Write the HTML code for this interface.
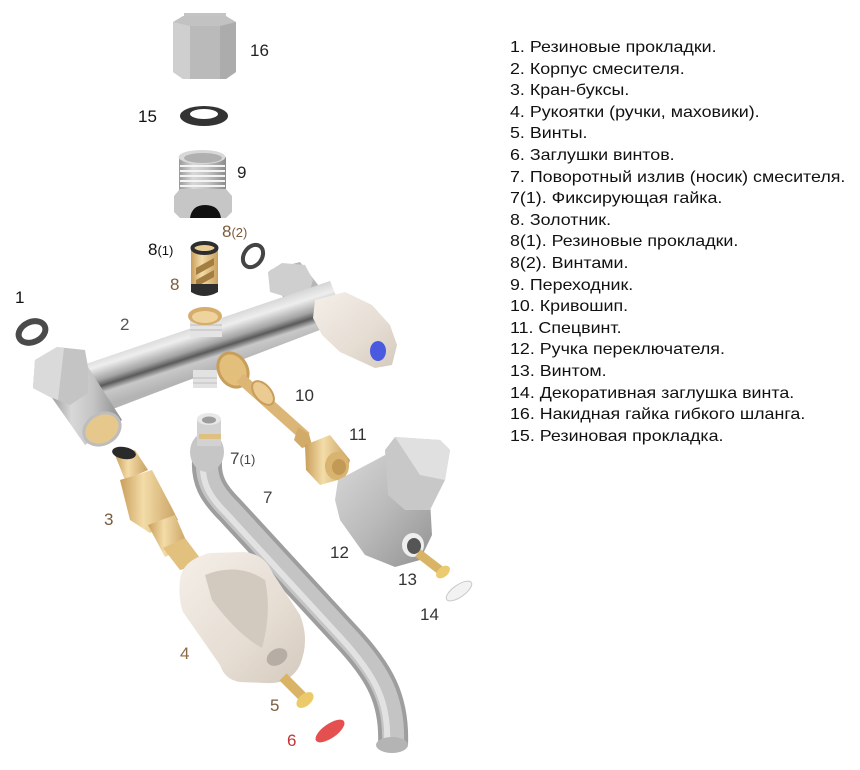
<!DOCTYPE html>
<html><head><meta charset="utf-8">
<style>
html,body{margin:0;padding:0;background:#fff;}
body{width:860px;height:770px;position:relative;overflow:hidden;font-family:"Liberation Sans",Arial,sans-serif;}
#list{position:absolute;left:510px;top:37px;font-size:16px;line-height:21.6px;color:#111;white-space:nowrap;transform:scaleX(1.115);transform-origin:0 0;}
svg{position:absolute;left:0;top:0;}
</style></head><body>
<svg width="860" height="770" viewBox="0 0 860 770" xmlns="http://www.w3.org/2000/svg">
<defs>
<linearGradient id="chromeV" x1="0" y1="0" x2="1" y2="0">
<stop offset="0" stop-color="#9a9a9a"/><stop offset="0.3" stop-color="#d8d8d8"/><stop offset="0.6" stop-color="#c4c4c4"/><stop offset="1" stop-color="#8c8c8c"/></linearGradient>
<linearGradient id="bar" gradientUnits="userSpaceOnUse" x1="200" y1="320" x2="216" y2="370">
<stop offset="0" stop-color="#cfcfcf"/><stop offset="0.25" stop-color="#eeeeee"/><stop offset="0.5" stop-color="#a4a4a4"/><stop offset="0.62" stop-color="#5a5a5a"/><stop offset="0.75" stop-color="#c8c8c8"/><stop offset="1" stop-color="#b4b4b4"/></linearGradient>
<linearGradient id="brass" x1="0" y1="0" x2="1" y2="0">
<stop offset="0" stop-color="#c99e5a"/><stop offset="0.4" stop-color="#f3dca8"/><stop offset="1" stop-color="#c9a060"/></linearGradient>
<linearGradient id="ivory" x1="0" y1="0" x2="1" y2="1">
<stop offset="0" stop-color="#f4efe9"/><stop offset="0.6" stop-color="#e6ddd3"/><stop offset="1" stop-color="#d4cabe"/></linearGradient>
<linearGradient id="knob12" x1="0" y1="0" x2="1" y2="1">
<stop offset="0" stop-color="#d8d8d8"/><stop offset="0.5" stop-color="#bababa"/><stop offset="1" stop-color="#929292"/></linearGradient>
</defs>

<!-- 16 nut -->
<rect x="184" y="13" width="42" height="12" fill="#c4c4c4"/>
<polygon points="173,22 183,16 226,16 236,22 236,72 226,79 183,79 173,72" fill="#c2c2c2"/>
<polygon points="173,22 190,26 190,79 183,79 173,72" fill="#cfcfcf"/>
<polygon points="190,26 220,26 220,79 190,79" fill="#bababa"/>
<polygon points="220,26 236,22 236,72 226,79 220,79" fill="#acacac"/>

<!-- 15 washer -->
<ellipse cx="204" cy="116" rx="24" ry="10" fill="#333"/>
<ellipse cx="204" cy="114" rx="14" ry="5" fill="#fff"/>

<!-- 9 adapter -->
<rect x="179" y="157" width="47" height="36" fill="url(#chromeV)"/>
<g stroke="#f4f4f4" stroke-width="2">
<line x1="180" y1="166" x2="225" y2="166"/><line x1="180" y1="171" x2="225" y2="171"/><line x1="180" y1="176" x2="225" y2="176"/><line x1="180" y1="181" x2="225" y2="181"/><line x1="180" y1="186" x2="225" y2="186"/></g>
<ellipse cx="202" cy="157" rx="23.5" ry="7" fill="#d8d8d8"/>
<ellipse cx="203" cy="158" rx="19" ry="5" fill="#b0b0b0"/>
<polygon points="174,196 180,189 226,189 232,196 232,212 226,218 180,218 174,212" fill="#c6c6c6"/>
<path d="M190 218 Q192 205 205 205 Q219 205 221 218 Z" fill="#111"/>

<!-- 8 and washers -->
<rect x="191" y="248" width="27" height="44" fill="url(#brass)"/>
<polygon points="196,268 214,258 214,265 196,275" fill="#a47e40"/>
<polygon points="196,280 214,270 214,277 196,287" fill="#a47e40"/>
<path d="M191 284 L218 284 L218 292 Q204 300 191 292 Z" fill="#2e2e2e"/>
<ellipse cx="204.5" cy="248" rx="12" ry="5" fill="#e8cc94" stroke="#2e2e2e" stroke-width="4"/>
<ellipse cx="253" cy="256" rx="9" ry="12" transform="rotate(35 253 256)" fill="none" stroke="#444" stroke-width="4"/>
<ellipse cx="32" cy="332" rx="14" ry="10" transform="rotate(-25 32 332)" fill="none" stroke="#4a4a4a" stroke-width="6"/>

<!-- body 2 -->
<polygon points="270,270 300,262 330,300 315,320 290,312" fill="#b6b6b6"/>
<polygon points="268,272 282,263 305,265 313,280 308,297 290,298 270,292" fill="#cfcfcf"/>
<polygon points="80,366 330,281 346,320 100,414" fill="url(#bar)"/>
<polygon points="135,348 225,318 239,362 150,394" fill="url(#bar)" opacity="0.85"/>
<polygon points="50,395 88,367 122,420 85,445" fill="url(#chromeV)"/>
<ellipse cx="102" cy="429" rx="19" ry="15" transform="rotate(-30 102 429)" fill="#e6c78c" stroke="#bdbdbd" stroke-width="3"/>
<polygon points="35,360 57,347 85,350 88,367 88,393 70,405 50,397 33,388" fill="#c4c4c4"/>
<polygon points="35,360 57,347 64,348 58,400 50,397 33,388" fill="#dadada"/>
<rect x="193" y="370" width="24" height="18" fill="#e2e2e2"/>
<rect x="190" y="315" width="32" height="22" fill="#e4e4e4"/>
<g stroke="#bdbdbd" stroke-width="1"><line x1="190" y1="325" x2="222" y2="325"/><line x1="190" y1="330" x2="222" y2="330"/><line x1="193" y1="378" x2="217" y2="378"/><line x1="193" y1="383" x2="217" y2="383"/></g>
<ellipse cx="205" cy="316" rx="17" ry="9" fill="#d6ad6c"/>
<ellipse cx="205" cy="317" rx="13" ry="6" fill="#efd39c"/>
<ellipse cx="233" cy="370" rx="14" ry="18" transform="rotate(-30 233 370)" fill="#e3bf7c" stroke="#c99e5a" stroke-width="3"/>
<!-- right knob -->
<polygon points="315,300 345,292 372,305 390,325 397,345 392,365 375,368 340,352 322,335 313,318" fill="url(#ivory)"/>
<ellipse cx="378" cy="351" rx="8" ry="10" fill="#4a5ae0"/>

<!-- 10 -->
<line x1="240" y1="378" x2="306" y2="437" stroke="#dcb676" stroke-width="11"/>
<polygon points="298,427 309,434 312,445 302,448 294,440" fill="#d2ab68"/>
<ellipse cx="263" cy="393" rx="8" ry="14" transform="rotate(-40 263 393)" fill="#ebcb92" stroke="#c99e5a" stroke-width="2"/>

<!-- 11 -->
<polygon points="305,445 330,435 350,460 345,478 320,485 306,470" fill="url(#brass)"/>
<ellipse cx="337" cy="466" rx="12" ry="14" fill="#d8b470"/>
<ellipse cx="339" cy="467" rx="7" ry="8" fill="#c39a55"/>

<!-- 12 -->
<polygon points="338,480 385,455 415,470 430,500 432,535 420,560 395,567 365,555 340,520 335,500" fill="url(#knob12)"/>
<ellipse cx="413" cy="545" rx="11" ry="12" fill="#eee"/>
<ellipse cx="414" cy="546" rx="7" ry="8" fill="#555"/>
<polygon points="385,450 395,437 440,440 450,450 445,480 430,510 405,510 388,495" fill="#c8c8c8"/>
<polygon points="395,437 440,440 450,450 445,480 420,475" fill="#e0e0e0"/>
<!-- 13 -->
<line x1="418" y1="553" x2="440" y2="570" stroke="#d9b466" stroke-width="9"/>
<ellipse cx="443" cy="572" rx="8" ry="5" transform="rotate(-40 443 572)" fill="#ecca70"/>
<!-- 14 -->
<ellipse cx="459" cy="591" rx="15" ry="6" transform="rotate(-35 459 591)" fill="#f2f2f2" stroke="#c8c8c8" stroke-width="1"/>

<!-- spout 7 -->
<path d="M208 452 C203 480 215 495 230 510 L345 635 C380 672 395 700 393 745" fill="none" stroke="#9e9e9e" stroke-width="30"/>
<path d="M208 452 C203 480 215 495 230 510 L345 635 C380 672 395 700 393 745" fill="none" stroke="#c4c4c4" stroke-width="22"/>
<path d="M204 455 C199 482 211 498 226 513 L341 638 C375 675 389 702 387 743" fill="none" stroke="#e2e2e2" stroke-width="6"/>
<ellipse cx="392" cy="745" rx="16" ry="8" fill="#b4b4b4"/>
<ellipse cx="207" cy="452" rx="17" ry="20" fill="#c6c6c6"/>
<rect x="197" y="418" width="24" height="28" fill="#d2d2d2"/>
<rect x="199" y="434" width="22" height="5" fill="#dfc080"/>
<ellipse cx="209" cy="419" rx="12" ry="6" fill="#e8e8e8"/>
<ellipse cx="209" cy="420" rx="7" ry="3.5" fill="#9c9c9c"/>

<!-- 3 cartridge -->
<polygon points="115,455 135,450 148,470 125,480" fill="url(#brass)"/>
<ellipse cx="124" cy="453" rx="12" ry="6" transform="rotate(10 124 453)" fill="#2a2a2a"/>
<polygon points="120,480 152,470 172,508 178,520 150,533 130,520" fill="url(#brass)"/>
<polygon points="148,525 175,515 188,545 165,557" fill="url(#brass)"/>
<polygon points="163,548 185,538 200,558 196,566 180,570" fill="#e2c07e"/>

<!-- 4 handle -->
<path d="M180 580 Q182 560 210 553 L245 552 Q265 555 272 572 L300 615 Q310 640 300 665 Q290 685 265 683 L240 682 Q225 680 220 665 L183 612 Q178 598 180 580 Z" fill="url(#ivory)"/>
<path d="M205 575 Q238 562 265 580 Q272 612 262 648 Q238 635 212 600 Z" fill="#d2c9bf"/>
<ellipse cx="277" cy="657" rx="11" ry="8" transform="rotate(-30 277 657)" fill="#b6aea5"/>
<!-- 5 screw -->
<line x1="283" y1="677" x2="302" y2="696" stroke="#d9b466" stroke-width="10"/>
<ellipse cx="305" cy="700" rx="10" ry="6" transform="rotate(-40 305 700)" fill="#ecca6a"/>
<!-- 6 -->
<ellipse cx="330" cy="731" rx="17" ry="7" transform="rotate(-35 330 731)" fill="#e45050"/>

<!-- labels -->
<g font-family="Liberation Sans, Arial, sans-serif" font-size="17">
<text x="250" y="56" fill="#222">16</text>
<text x="138" y="122" fill="#111">15</text>
<text x="237" y="178" fill="#222">9</text>
<text x="148" y="255" fill="#111">8<tspan font-size="13">(1)</tspan></text>
<text x="222" y="237" fill="#7a5c3c">8<tspan font-size="13">(2)</tspan></text>
<text x="170" y="290" fill="#7a5c3c">8</text>
<text x="15" y="303" fill="#111">1</text>
<text x="120" y="330" fill="#555">2</text>
<text x="295" y="401" fill="#333">10</text>
<text x="349" y="440" fill="#333">11</text>
<text x="230" y="464" fill="#444">7<tspan font-size="13">(1)</tspan></text>
<text x="263" y="503" fill="#444">7</text>
<text x="104" y="525" fill="#7a5c3c">3</text>
<text x="330" y="558" fill="#333">12</text>
<text x="398" y="585" fill="#333">13</text>
<text x="420" y="620" fill="#333">14</text>
<text x="180" y="659" fill="#8a6a44">4</text>
<text x="270" y="711" fill="#7a5c3c">5</text>
<text x="287" y="746" fill="#c83232">6</text>
</g>
</svg>
<div id="list">
1. Резиновые прокладки.<br>
2. Корпус смесителя.<br>
3. Кран-буксы.<br>
4. Рукоятки (ручки, маховики).<br>
5. Винты.<br>
6. Заглушки винтов.<br>
7. Поворотный излив (носик) смесителя.<br>
7(1). Фиксирующая гайка.<br>
8. Золотник.<br>
8(1). Резиновые прокладки.<br>
8(2). Винтами.<br>
9. Переходник.<br>
10. Кривошип.<br>
11. Спецвинт.<br>
12. Ручка переключателя.<br>
13. Винтом.<br>
14. Декоративная заглушка винта.<br>
16. Накидная гайка гибкого шланга.<br>
15. Резиновая прокладка.
</div>
</body></html>
